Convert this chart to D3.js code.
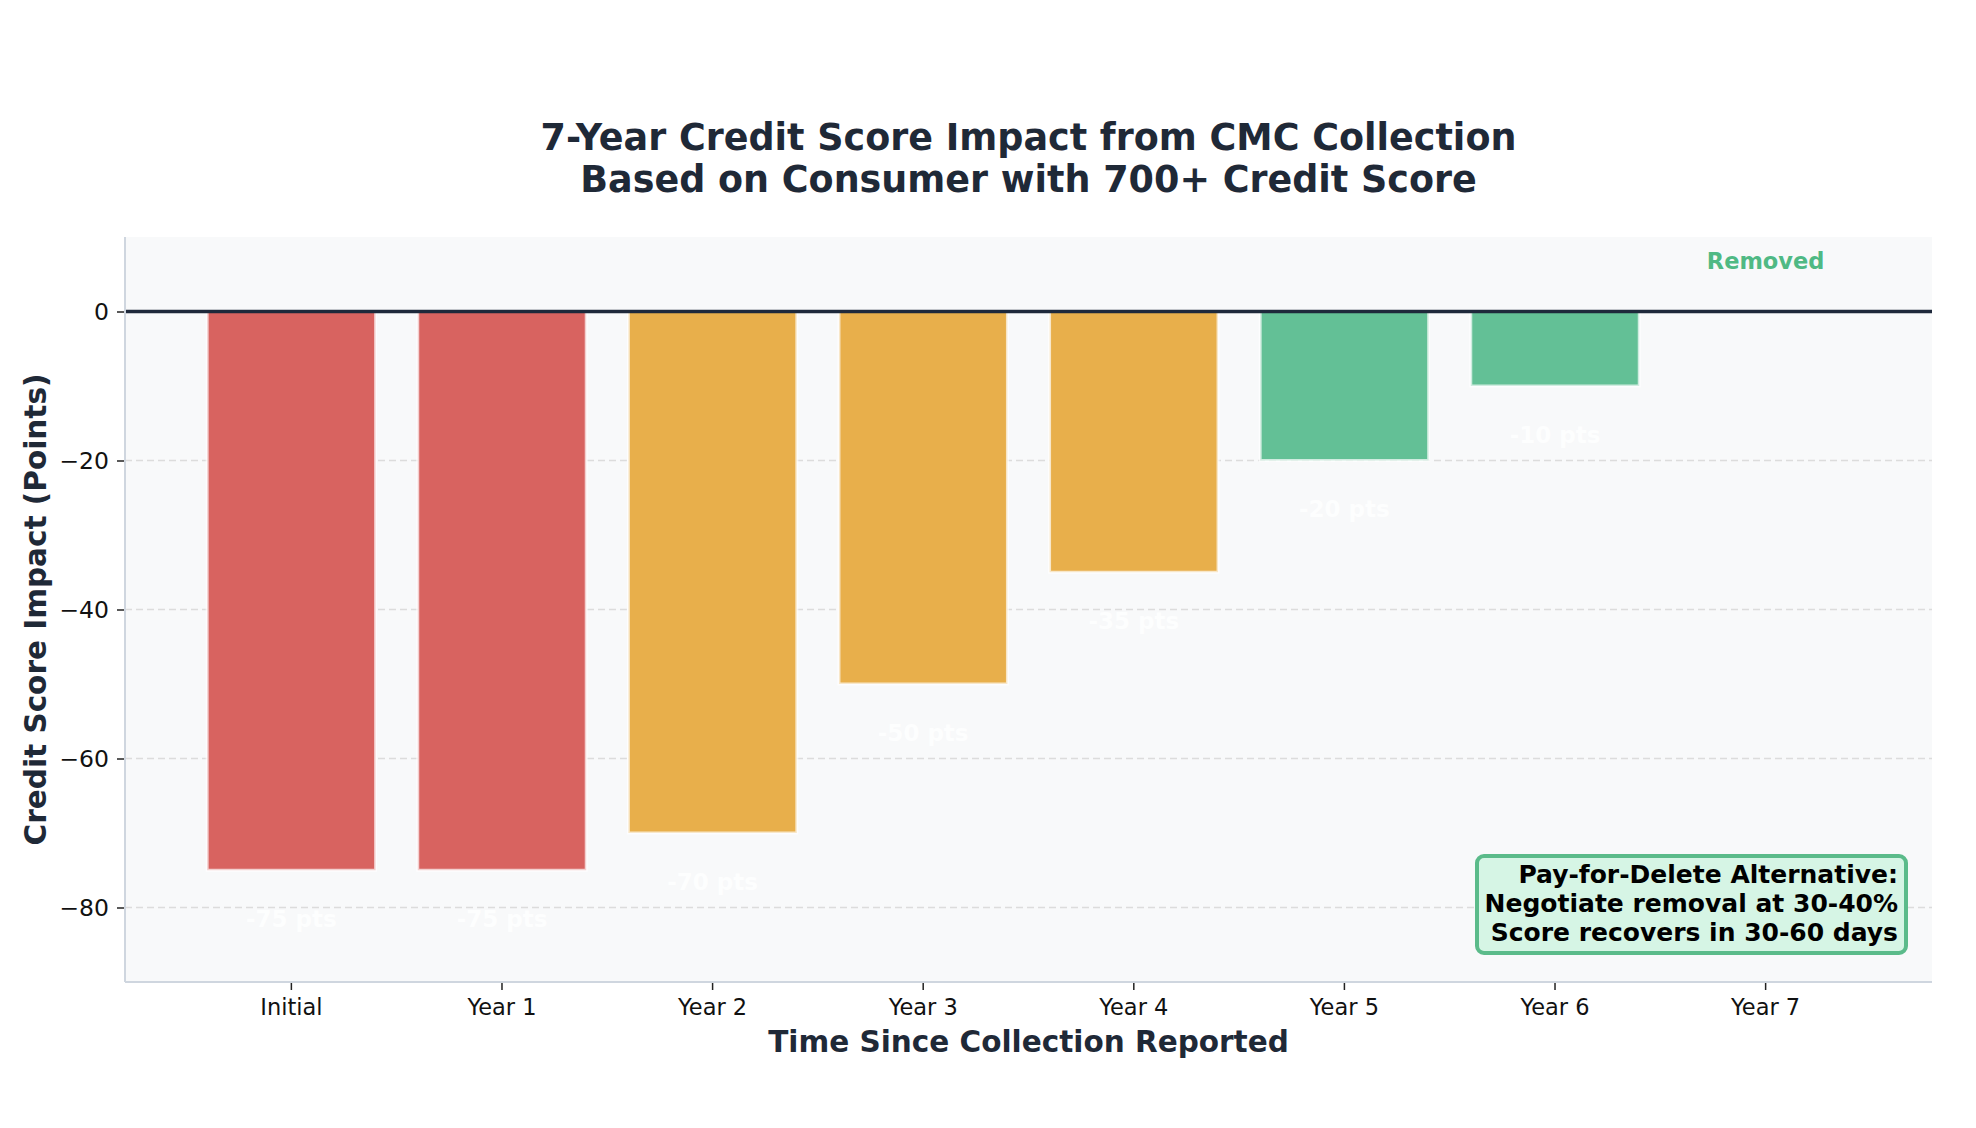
<!DOCTYPE html>
<html>
<head>
<meta charset="utf-8">
<script src="https://cdn.jsdelivr.net/npm/d3@7"></script>
<style>
  body { margin: 0; background: #fff; }
  svg { display: block; font-family: "DejaVu Sans", sans-serif; }
</style>
</head>
<body>
<svg id="chart" width="1976" height="1128"></svg>
<script>
// chart data
const periods = ["Initial", "Year 1", "Year 2", "Year 3", "Year 4", "Year 5", "Year 6", "Year 7"];
const impacts = [-75, -75, -70, -50, -35, -20, -10, 0];
const barColors = ["#d86360", "#d86360", "#e8af4b", "#e8af4b", "#e8af4b", "#63c096", "#63c096", "#63c096"];
const yTicks = [0, -20, -40, -60, -80];
const noteLines = ["Pay-for-Delete Alternative:", "Negotiate removal at 30-40%", "Score recovers in 30-60 days"];

const svg = d3.select("#chart");
const plot = { left: 125, right: 1932, top: 237, bottom: 982 };

const x = d3.scaleBand()
  .domain(periods)
  .range([plot.left, plot.right])
  .paddingInner(0.2)
  .paddingOuter(0.39);

const y = d3.scaleLinear()
  .domain([-90, 10])
  .range([plot.bottom, plot.top]);

// plot background
svg.append("rect")
  .attr("x", plot.left)
  .attr("y", plot.top)
  .attr("width", plot.right - plot.left)
  .attr("height", plot.bottom - plot.top)
  .attr("fill", "#f8f9fa");

// dashed grid
svg.append("g")
  .selectAll("line")
  .data(yTicks.filter(d => d !== 0))
  .join("line")
  .attr("x1", plot.left)
  .attr("x2", plot.right)
  .attr("y1", d => y(d))
  .attr("y2", d => y(d))
  .attr("stroke", "#dcdcdc")
  .attr("stroke-width", 1.5)
  .attr("stroke-dasharray", "7,4");

// bars
svg.append("g")
  .selectAll("rect")
  .data(impacts)
  .join("rect")
  .attr("x", (d, i) => x(periods[i]))
  .attr("y", d => y(Math.max(0, d)))
  .attr("width", x.bandwidth())
  .attr("height", d => Math.abs(y(d) - y(0)))
  .attr("fill", (d, i) => barColors[i])
  .attr("stroke", "#fff")
  .attr("stroke-opacity", 0.7)
  .attr("stroke-width", 3)
  .style("display", d => d === 0 ? "none" : null);

// value labels below the bars (white, barely visible on background)
svg.append("g")
  .selectAll("text")
  .data(impacts)
  .join("text")
  .attr("x", (d, i) => x(periods[i]) + x.bandwidth() / 2)
  .attr("y", d => y(d - 5))
  .attr("dy", "0.85em")
  .attr("text-anchor", "middle")
  .style("font-size", "23px")
  .style("font-weight", "bold")
  .style("fill", "#fff")
  .style("fill-opacity", 0.85)
  .style("display", d => d === 0 ? "none" : null)
  .text(d => `${d} pts`);

// "Removed" label for final year
svg.append("text")
  .attr("x", x("Year 7") + x.bandwidth() / 2)
  .attr("y", y(5))
  .attr("dy", "-0.25em")
  .attr("text-anchor", "middle")
  .style("font-size", "22.5px")
  .style("font-weight", "bold")
  .style("fill", "#4fb984")
  .text("Removed");

// zero line
svg.append("line")
  .attr("x1", plot.left)
  .attr("x2", plot.right)
  .attr("y1", y(0))
  .attr("y2", y(0))
  .attr("stroke", "#1e293b")
  .attr("stroke-width", 3.5);

// axes
const yAxis = svg.append("g")
  .attr("transform", `translate(${plot.left},0)`)
  .call(d3.axisLeft(y).tickValues(yTicks).tickSize(8).tickPadding(8)
    .tickFormat(d => d < 0 ? "\u2212" + Math.abs(d) : d));
const xAxis = svg.append("g")
  .attr("transform", `translate(0,${plot.bottom})`)
  .call(d3.axisBottom(x).tickSize(8).tickPadding(9));

[yAxis, xAxis].forEach(a => {
  a.select(".domain").remove();
  a.selectAll(".tick line").attr("stroke", "#222").attr("stroke-width", 1.5);
  a.selectAll(".tick text")
    .style("font-family", "DejaVu Sans, sans-serif")
    .style("font-size", "22.5px")
    .style("fill", "#111");
});
yAxis.selectAll(".tick text").style("font-size", "23.5px");

// spines
svg.append("line")
  .attr("x1", plot.left).attr("x2", plot.left)
  .attr("y1", plot.top).attr("y2", plot.bottom)
  .attr("stroke", "#cfd6df").attr("stroke-width", 2);
svg.append("line")
  .attr("x1", plot.left).attr("x2", plot.right)
  .attr("y1", plot.bottom).attr("y2", plot.bottom)
  .attr("stroke", "#cfd6df").attr("stroke-width", 2);

// pay-for-delete note
const note = svg.append("g");
note.append("rect")
  .attr("x", 1477)
  .attr("y", 856)
  .attr("width", 429)
  .attr("height", 97)
  .attr("rx", 7)
  .attr("fill", "#d6f5e5")
  .attr("stroke", "#5bbb8a")
  .attr("stroke-width", 4);
note.selectAll("text")
  .data(noteLines)
  .join("text")
  .attr("x", 1898)
  .attr("y", (d, i) => 874 + i * 29)
  .attr("dy", "0.35em")
  .attr("text-anchor", "end")
  .style("font-size", "25px")
  .style("font-weight", "bold")
  .style("fill", "#000")
  .text(d => d);

// titles
const cx = (plot.left + plot.right) / 2;
const title = svg.append("text")
  .attr("text-anchor", "middle")
  .style("font-size", "36.5px")
  .style("font-weight", "bold")
  .style("fill", "#1f2937");
title.append("tspan").attr("x", cx).attr("y", 150)
  .text("7-Year Credit Score Impact from CMC Collection");
title.append("tspan").attr("x", cx).attr("y", 192)
  .text("Based on Consumer with 700+ Credit Score");

svg.append("text")
  .attr("x", cx)
  .attr("y", 1042)
  .attr("dy", "0.35em")
  .attr("text-anchor", "middle")
  .style("font-size", "29.5px")
  .style("font-weight", "bold")
  .style("fill", "#1f2937")
  .text("Time Since Collection Reported");

svg.append("text")
  .attr("transform", `translate(36,${(plot.top + plot.bottom) / 2}) rotate(-90)`)
  .attr("dy", "0.35em")
  .attr("text-anchor", "middle")
  .style("font-size", "29.5px")
  .style("font-weight", "bold")
  .style("fill", "#1f2937")
  .text("Credit Score Impact (Points)");
</script>
</body>
</html>
